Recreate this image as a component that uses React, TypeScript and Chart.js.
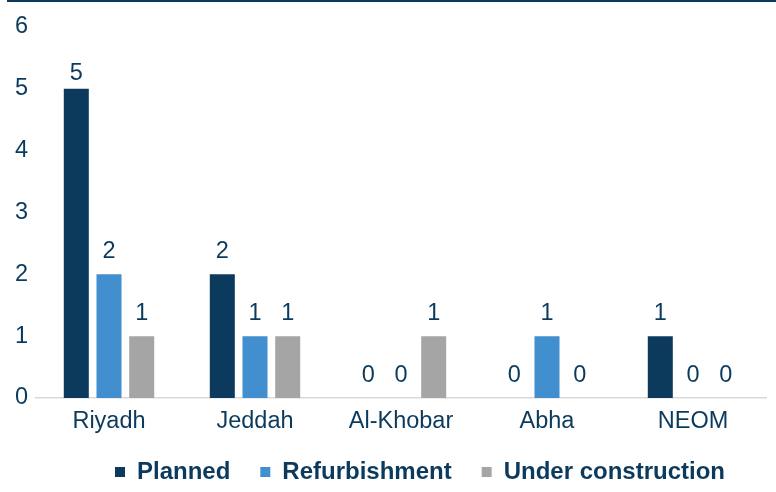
import React, { useEffect, useRef } from "react";
import { Chart, registerables } from "chart.js";

Chart.register(...registerables);

const categories = ["Riyadh", "Jeddah", "Al-Khobar", "Abha", "NEOM"];
const seriesNames = ["Planned", "Refurbishment", "Under construction"];
const planned = [5, 2, 0, 0, 1];
const refurbishment = [2, 1, 0, 1, 0];
const underConstruction = [1, 1, 1, 0, 0];
const yTicks = [0, 1, 2, 3, 4, 5, 6];

const NAVY = "#0C3A5D";
const BLUE = "#418FCE";
const GRAY = "#A5A5A5";
const FONT = "'Liberation Sans', Arial, Helvetica, sans-serif";

const valueLabels = {
  id: "valueLabels",
  afterDatasetsDraw(chart: any) {
    const ctx = chart.ctx;
    ctx.save();
    ctx.font = `23.5px ${FONT}`;
    ctx.fillStyle = NAVY;
    ctx.textAlign = "center";
    ctx.textBaseline = "middle";
    chart.data.datasets.forEach((ds: any, di: number) => {
      const meta = chart.getDatasetMeta(di);
      meta.data.forEach((el: any, i: number) => {
        const y = Math.max(el.y - 22.5, chart.chartArea.top + 47);
        ctx.fillText(String(ds.data[i]), el.x, y);
      });
    });
    ctx.restore();
  },
};

const legendShift = {
  id: "legendShift",
  afterLayout(chart: any) {
    const l = chart.legend;
    if (l) {
      l.left += 74;
      l.top -= 18;
      l.bottom += 40;
    }
  },
};

export default function App() {
  const ref = useRef<HTMLCanvasElement | null>(null);
  useEffect(() => {
    if (!ref.current) return;
    const chart = new Chart(ref.current, {
      type: "bar",
      data: {
        labels: categories,
        datasets: [
          { label: seriesNames[0], data: planned, backgroundColor: NAVY },
          { label: seriesNames[1], data: refurbishment, backgroundColor: BLUE },
          { label: seriesNames[2], data: underConstruction, backgroundColor: GRAY },
        ],
      },
      options: {
        responsive: false,
        animation: false,
        layout: { padding: { top: 27, right: 10, left: 0, bottom: 0 } },
        datasets: {
          bar: { categoryPercentage: 0.672, barPercentage: 0.765 },
        },
        plugins: {
          tooltip: { enabled: false },
          legend: {
            position: "bottom",
            maxHeight: 44,
            labels: {
              boxWidth: 10,
              boxHeight: 10,
              padding: 30,
              color: NAVY,
              font: { family: FONT, size: 24, weight: "bold" },
            },
          },
        },
        scales: {
          x: {
            grid: { display: false, drawTicks: false },
            border: { display: true, color: "#D9D9D9", width: 1.5 },
            ticks: { color: NAVY, padding: 9, font: { family: FONT, size: 23.5 } },
            afterFit(scale: any) {
              scale.height = 50;
            },
          },
          y: {
            min: 0,
            max: 6,
            grid: { display: false, drawTicks: false },
            border: { display: false },
            afterBuildTicks(scale: any) {
              scale.ticks = yTicks.map((v) => ({ value: v }));
            },
            ticks: { color: NAVY, padding: 8, font: { family: FONT, size: 23.5 } },
            afterFit(scale: any) {
              scale.width = 36;
            },
          },
        },
      },
      plugins: [valueLabels, legendShift],
    });
    return () => chart.destroy();
  }, []);
  return (
    <div style={{ position: "absolute", left: 0, top: 0, width: 776, height: 492 }}>
      <div style={{ position: "absolute", left: 7, right: 0, top: 0, height: 2, background: NAVY }} />
      <canvas ref={ref} width={776} height={492} style={{ position: "absolute", left: 0, top: 0 }} />
    </div>
  );
}
